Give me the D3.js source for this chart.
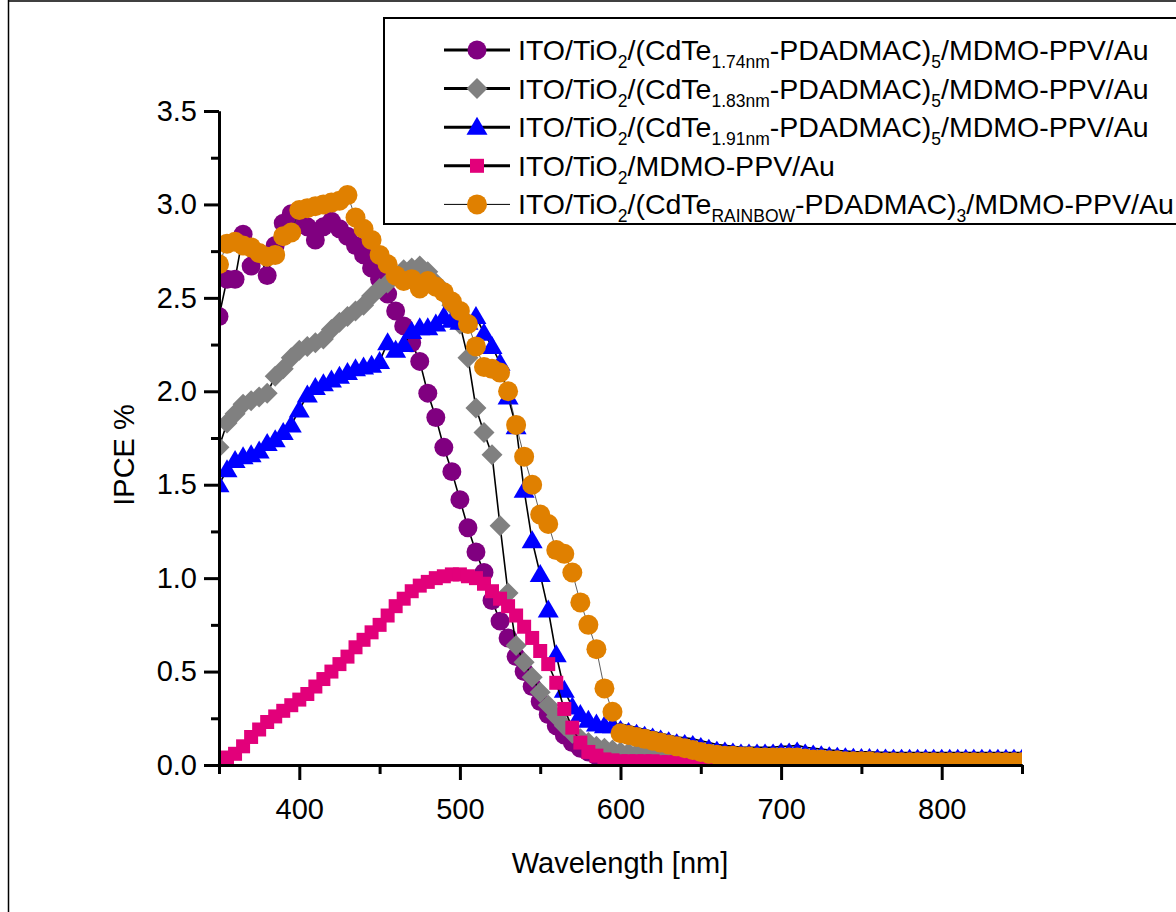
<!DOCTYPE html>
<html>
<head>
<meta charset="utf-8">
<script src="https://cdn.jsdelivr.net/npm/d3@7"></script>
<style>
  body { margin: 0; background: #fff; }
  svg { display: block; }
  text { font-family: "Liberation Sans", Arial, sans-serif; }
</style>
</head>
<body>
<svg width="1176" height="912"></svg>
<script>
// wavelength grid (nm), 5 nm step, shared by all series
var wavelengths = d3.range(350, 851, 5);

var ipce174 = [2.40,2.60,2.60,2.84,2.67,2.74,2.62,2.78,2.90,2.95,
  2.92,2.88,2.81,2.88,2.91,2.87,2.83,2.78,2.73,2.66,
  2.60,2.52,2.43,2.35,2.26,2.16,1.99,1.86,1.70,1.57,
  1.42,1.27,1.14,1.03,0.88,0.77,0.68,0.58,0.50,0.42,
  0.34,0.27,0.21,0.16,0.12,0.09,0.07,0.05,0.04,0.03,
  0.03,0.03,0.02,0.02,0.02,0.02,0.02,0.02,0.02,0.02,
  0.02,0.02,0.02,0.02,0.02,0.02,0.02,0.02,0.02,0.02,
  0.02,0.02,0.02,0.02,0.02,0.02,0.02,0.02,0.02,0.02,
  0.02,0.02,0.02,0.02,0.02,0.02,0.02,0.02,0.02,0.02,
  0.02,0.02,0.02,0.02,0.02,0.02,0.02,0.02,0.02,0.02,0.02];

var ipce183 = [1.70,1.83,1.88,1.93,1.95,1.97,1.99,2.08,2.12,2.18,
  2.22,2.24,2.26,2.28,2.33,2.37,2.40,2.43,2.46,2.51,
  2.55,2.58,2.62,2.65,2.66,2.67,2.64,2.58,2.52,2.46,
  2.36,2.18,1.91,1.78,1.66,1.28,0.92,0.64,0.55,0.47,
  0.39,0.32,0.26,0.21,0.17,0.14,0.12,0.10,0.09,0.08,
  0.07,0.065,0.06,0.055,0.05,0.045,0.04,0.035,0.03,0.03,
  0.025,0.02,0.02,0.02,0.02,0.02,0.02,0.02,0.02,0.02,
  0.02,0.02,0.02,0.02,0.02,0.02,0.02,0.02,0.02,0.02,
  0.02,0.02,0.02,0.02,0.02,0.02,0.02,0.02,0.02,0.02,
  0.02,0.02,0.02,0.02,0.02,0.02,0.02,0.02,0.02,0.02,0.02];

var ipce191 = [1.50,1.58,1.63,1.65,1.66,1.68,1.72,1.74,1.78,1.82,
  1.90,1.98,2.02,2.04,2.06,2.08,2.10,2.12,2.13,2.14,
  2.16,2.26,2.22,2.25,2.32,2.34,2.34,2.36,2.40,2.38,
  2.37,2.37,2.40,2.31,2.24,2.15,1.97,1.81,1.47,1.20,
  1.02,0.83,0.59,0.40,0.31,0.27,0.24,0.22,0.21,0.21,
  0.22,0.21,0.20,0.19,0.18,0.17,0.16,0.15,0.145,0.14,
  0.13,0.12,0.11,0.105,0.10,0.095,0.095,0.095,0.095,0.095,
  0.10,0.10,0.105,0.095,0.09,0.085,0.08,0.078,0.075,0.072,
  0.07,0.07,0.068,0.068,0.067,0.067,0.066,0.066,0.066,0.066,
  0.066,0.066,0.066,0.066,0.066,0.066,0.066,0.066,0.066,0.066,0.066];

var ipceBare = [0.02,0.04,0.06,0.10,0.15,0.19,0.23,0.26,0.29,0.32,
  0.35,0.38,0.42,0.46,0.50,0.54,0.58,0.63,0.67,0.71,
  0.75,0.80,0.85,0.89,0.93,0.96,0.98,1.00,1.01,1.02,
  1.02,1.01,1.00,0.97,0.93,0.89,0.85,0.80,0.74,0.68,
  0.61,0.54,0.44,0.30,0.20,0.12,0.07,0.05,0.03,0.025,
  0.02,0.02,0.02,0.02,0.02,0.015,0.015,0.015,0.015,0.015,
  0.015,0.015,0.015,0.015,0.015,0.015,0.015,0.015,0.015,0.015,
  0.015,0.015,0.015,0.015,0.015,0.015,0.015,0.015,0.015,0.015,
  0.015,0.015,0.015,0.015,0.015,0.015,0.015,0.015,0.015,0.015,
  0.015,0.015,0.015,0.015,0.015,0.015,0.015,0.015,0.015,0.015,0.015];

var ipceRainbow = [2.68,2.79,2.80,2.78,2.77,2.74,2.72,2.73,2.83,2.85,
  2.97,2.98,2.99,3.00,3.01,3.02,3.05,2.93,2.87,2.81,
  2.73,2.68,2.62,2.59,2.60,2.55,2.59,2.56,2.53,2.48,
  2.43,2.36,2.24,2.13,2.12,2.10,2.00,1.82,1.65,1.50,
  1.34,1.29,1.15,1.13,1.03,0.87,0.75,0.62,0.41,0.285,
  0.17,0.16,0.15,0.14,0.13,0.12,0.11,0.10,0.09,0.08,
  0.07,0.06,0.055,0.05,0.05,0.045,0.045,0.04,0.04,0.04,
  0.04,0.04,0.04,0.035,0.03,0.03,0.025,0.025,0.02,0.02,
  0.02,0.02,0.015,0.015,0.015,0.015,0.015,0.015,0.015,0.015,
  0.015,0.015,0.015,0.015,0.015,0.015,0.015,0.015,0.015,0.015,0.015];

var yTicks = [0, 0.5, 1.0, 1.5, 2.0, 2.5, 3.0, 3.5];
var yMinor = [0.25, 0.75, 1.25, 1.75, 2.25, 2.75, 3.25];
var xTicks = [400, 500, 600, 700, 800];
var xMinor = [350, 450, 550, 650, 750, 850];

var series = [
  { name: "174", values: ipce174, color: "#800080", shape: "circle", lineW: 1.6 },
  { name: "183", values: ipce183, color: "#808080", shape: "diamond", lineW: 1.6 },
  { name: "191", values: ipce191, color: "#0000ff", shape: "triangle", lineW: 1.6 },
  { name: "bare", values: ipceBare, color: "#e2007a", shape: "square", lineW: 1.6 },
  { name: "rainbow", values: ipceRainbow, color: "#e08000", shape: "circle2", lineW: 0.8 }
];

// legend labels: [text, isSubscript]
var legendLabels = [
  [["ITO/TiO",0],["2",1],["/(CdTe",0],["1.74nm",1],["-PDADMAC)",0],["5",1],["/MDMO-PPV/Au",0]],
  [["ITO/TiO",0],["2",1],["/(CdTe",0],["1.83nm",1],["-PDADMAC)",0],["5",1],["/MDMO-PPV/Au",0]],
  [["ITO/TiO",0],["2",1],["/(CdTe",0],["1.91nm",1],["-PDADMAC)",0],["5",1],["/MDMO-PPV/Au",0]],
  [["ITO/TiO",0],["2",1],["/MDMO-PPV/Au",0]],
  [["ITO/TiO",0],["2",1],["/(CdTe",0],["RAINBOW",1],["-PDADMAC)",0],["3",1],["/MDMO-PPV/Au",0]]
];

var svg = d3.select("svg");

var x = d3.scaleLinear().domain([350, 850]).range([219, 1022]);
var y = d3.scaleLinear().domain([0, 3.5]).range([765, 111]);

// outer frame
svg.append("line").attr("x1", 8.5).attr("x2", 8.5).attr("y1", 0).attr("y2", 912)
  .attr("stroke", "#000").attr("stroke-width", 1.5);
svg.append("line").attr("x1", 8).attr("x2", 1176).attr("y1", 1).attr("y2", 1)
  .attr("stroke", "#000").attr("stroke-width", 1.5);

svg.append("clipPath").attr("id", "plotclip")
  .append("rect").attr("x", 219).attr("y", 100).attr("width", 803).attr("height", 665);

function markerPath(shape, v, wl) {
  if (shape == "circle") return d3.symbol(d3.symbolCircle, Math.PI * 90)();
  if (shape == "circle2") return d3.symbol(d3.symbolCircle, Math.PI * 100)();
  if (shape == "diamond") return "M0,-10.5L10.5,0L0,10.5L-10.5,0Z";
  if (shape == "square") return "M-7,-7H7V7H-7Z";
  if (shape == "triangle") {
    if (wl > 597) return "M0,-3.8L4.5,2.8L-4.5,2.8Z";
    return "M0,-10.5L10.5,7.5L-10.5,7.5Z";
  }
}

var plot = svg.append("g").attr("clip-path", "url(#plotclip)");

var line = d3.line()
  .x(function (d) { return x(d[0]); })
  .y(function (d) { return y(d[1]); });

series.forEach(function (s) {
  var pts = wavelengths.map(function (w, i) { return [w, s.values[i]]; });
  var g = plot.append("g").attr("class", "series-" + s.name);
  g.append("path")
    .attr("d", line(pts))
    .attr("fill", "none")
    .attr("stroke", s.name == "rainbow" ? "#333" : "#000")
    .attr("stroke-width", s.lineW);
  g.selectAll("path.mk")
    .data(pts)
    .enter()
    .append("path")
    .attr("class", "mk")
    .attr("transform", function (d) { return "translate(" + x(d[0]) + "," + y(d[1]) + ")"; })
    .attr("d", function (d) { return markerPath(s.shape, d[1], d[0]); })
    .attr("fill", s.color);
});

// axes
function styleAxis(g) {
  g.selectAll("path.domain").attr("stroke-width", 3);
  g.selectAll(".tick line").attr("stroke-width", 3);
  g.selectAll("text").attr("font-size", 29).attr("fill", "#000")
    .style("font-family", "'Liberation Sans', Arial, sans-serif");
}

var yAxis = svg.append("g").attr("transform", "translate(219,0)")
  .call(d3.axisLeft(y).tickValues(yTicks).tickFormat(d3.format(".1f"))
    .tickSize(15).tickSizeOuter(0).tickPadding(7));
styleAxis(yAxis);
var yAxisMinor = svg.append("g").attr("transform", "translate(219,0)")
  .call(d3.axisLeft(y).tickValues(yMinor).tickFormat("").tickSize(8).tickSizeOuter(0));
styleAxis(yAxisMinor);

var xAxis = svg.append("g").attr("transform", "translate(0,765)")
  .call(d3.axisBottom(x).tickValues(xTicks).tickFormat(d3.format("d"))
    .tickSize(15).tickSizeOuter(0).tickPadding(18));
styleAxis(xAxis);
var xAxisMinor = svg.append("g").attr("transform", "translate(0,765)")
  .call(d3.axisBottom(x).tickValues(xMinor).tickFormat("").tickSize(9).tickSizeOuter(0));
styleAxis(xAxisMinor);

svg.append("text")
  .attr("x", 620).attr("y", 873)
  .attr("text-anchor", "middle")
  .attr("font-size", 29)
  .text("Wavelength [nm]");

svg.append("text")
  .attr("transform", "translate(134,455) rotate(-90)")
  .attr("text-anchor", "middle")
  .attr("font-size", 29)
  .text("IPCE %");

// legend
var legend = svg.append("g");
legend.append("rect")
  .attr("x", 384).attr("y", 18).attr("width", 820).attr("height", 206)
  .attr("fill", "#fff").attr("stroke", "#000").attr("stroke-width", 2);

series.forEach(function (s, i) {
  var ry = 50 + i * 38.6;
  legend.append("line")
    .attr("x1", 444).attr("x2", 510).attr("y1", ry).attr("y2", ry)
    .attr("stroke", "#000").attr("stroke-width", s.name == "rainbow" ? 1 : 3);
  legend.append("path")
    .attr("transform", "translate(477," + ry + ")")
    .attr("d", markerPath(s.shape, 0, 400))
    .attr("fill", s.color);
  var t = legend.append("text")
    .attr("x", 518).attr("y", ry + 10)
    .attr("font-size", 28.5);
  var shifted = false;
  legendLabels[i].forEach(function (p) {
    var ts = t.append("tspan").text(p[0]);
    if (p[1]) {
      ts.attr("font-size", 17.5).attr("dy", 8);
      shifted = true;
    } else if (shifted) {
      ts.attr("dy", -8);
      shifted = false;
    }
  });
});
</script>
</body>
</html>
